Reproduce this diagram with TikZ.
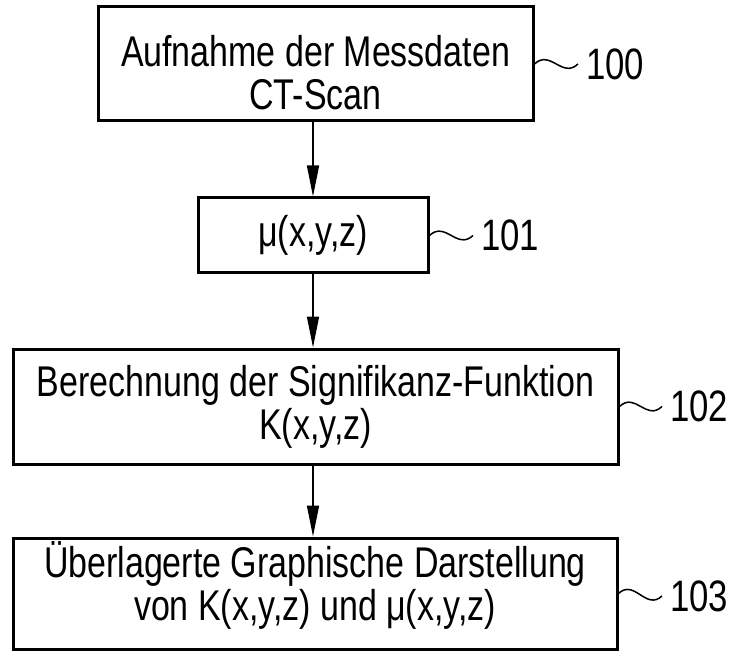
\documentclass[tikz,border=0pt]{standalone}
\usepackage{fontspec}
\setmainfont{Liberation Sans}[FakeStretch=0.79]
\usetikzlibrary{arrows.meta,calc}
\tikzset{
  box/.style={draw, line width=3pt, align=center, inner sep=0pt,
    font=\fontsize{43}{43}\selectfont},
  arr/.style={line width=1.5pt, -{Triangle[length=31pt,width=12pt]}},
  refnum/.style={font=\fontsize{44}{44}\selectfont, anchor=west,
    inner xsep=8pt, inner ysep=0pt},
  wave/.style={line width=1.5pt},
}
\begin{document}
\begin{tikzpicture}[x=1pt,y=-1pt]
\useasboundingbox (0,0) rectangle (736,652);
% boxes
\node[box, minimum width=435pt, minimum height=114pt] (b100) at (315.5,64)
  {\rule{0pt}{49pt}Aufnahme der Messdaten\\CT-Scan};
\node[box, minimum width=230pt, minimum height=75pt] (b101) at (313,235.5)
  {μ(x,y,z)};
\node[box, minimum width=605pt, minimum height=115pt] (b102) at (315.5,406.5)
  {Berechnung der Signifikanz-Funktion\\K(x,y,z)};
\node[box, minimum width=604pt, minimum height=111pt] (b103) at (315,593.5)
  {Überlagerte Graphische Darstellung\\von K(x,y,z) und μ(x,y,z)\rule[-24pt]{0pt}{24pt}};
% reference numerals
\node[refnum] (l100) at (578,64) {100};
\node[refnum] (l101) at (473,235.5) {101};
\node[refnum] (l102) at (662,406.5) {102};
\node[refnum] (l103) at (662,596) {103};
% arrows
\draw[arr] (b100.south -| b101.north) -- (b101.north);
\draw[arr] (b101.south) -- (b102.north -| b101.south);
\draw[arr] (b102.south -| b101.south) -- (b103.north -| b101.south);
% tildes
\foreach \b/\l in {b100/l100,b101/l101,b102/l102,b103/l103}{
  \draw[wave] (\b.east) .. controls ($(\b.east)+(16,-15)$) and ($(\l.west)+(-16,15)$) .. (\l.west);
}
\end{tikzpicture}
\end{document}
